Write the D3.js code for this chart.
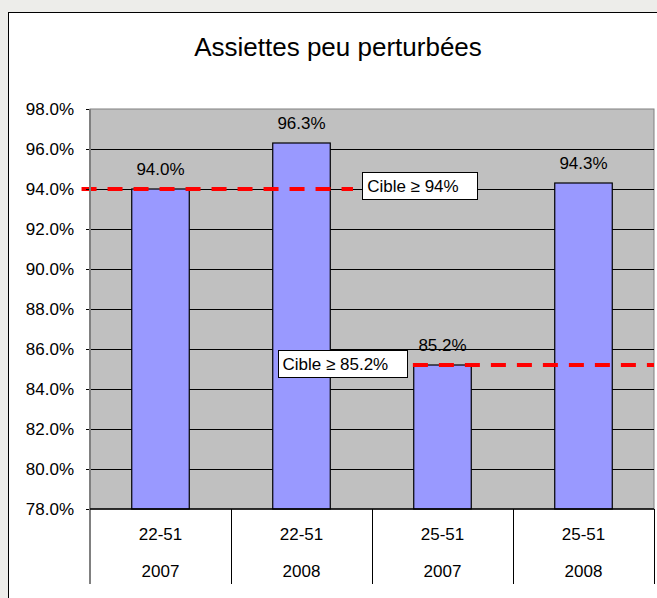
<!DOCTYPE html>
<html>
<head>
<meta charset="utf-8">
<script src="https://cdn.jsdelivr.net/npm/d3@7"></script>
<style>
  body { margin: 0; background: #ededea; }
  svg { display: block; font-family: Arial, "Liberation Sans", sans-serif; }
</style>
</head>
<body>
<div id="chart"></div>
<script>
// Chart data
var sites = ["22-51", "22-51", "25-51", "25-51"];
var years = ["2007", "2008", "2007", "2008"];
var values = [94.0, 96.3, 85.2, 94.3];
var yTicks = [78, 80, 82, 84, 86, 88, 90, 92, 94, 96, 98];
// target lines: value, label, start/end in category units
var targetValues = [94, 85.2];
var targetLabels = ["Cible \u2265 94%", "Cible \u2265 85.2%"];
var targetFrom = [-0.06, 2.29];
var targetTo = [1.865, 4.0];

var W = 657, H = 598;
var margin = {top: 109, right: 3, bottom: 89, left: 90},
    width = W - margin.left - margin.right,
    height = H - margin.top - margin.bottom;
var fs = "17px";

var svg = d3.select("#chart").append("svg")
    .attr("width", W)
    .attr("height", H);

// outer frame
svg.append("rect")
    .attr("x", 8.5).attr("y", 12.5)
    .attr("width", W + 10).attr("height", H + 10)
    .attr("fill", "#fff")
    .attr("stroke", "#000")
    .attr("stroke-width", 1);

svg.append("text")
    .attr("x", 338)
    .attr("y", 56)
    .attr("text-anchor", "middle")
    .style("font-size", "26px")
    .text("Assiettes peu perturbées");

var g = svg.append("g")
    .attr("transform", "translate(" + margin.left + "," + margin.top + ")");

var idx = d3.range(values.length);
var xScale = d3.scaleBand().domain(idx).range([0, width])
    .paddingInner(0.592).paddingOuter(0.296);
var xCat = d3.scaleLinear().domain([0, values.length]).range([0, width]);
var yScale = d3.scaleLinear().domain([78, 98]).range([height, 0]);

// plot background
g.append("rect")
    .attr("width", width).attr("height", height)
    .attr("fill", "#c0c0c0")
    .attr("stroke", "#808080");

// gridlines
g.selectAll(".grid").data(yTicks.slice(1, -1)).enter()
  .append("line")
    .attr("x1", 0).attr("x2", width)
    .attr("y1", function (d) { return Math.round(yScale(d)) + 0.5; })
    .attr("y2", function (d) { return Math.round(yScale(d)) + 0.5; })
    .attr("stroke", "#000")
    .attr("stroke-width", 1);

// bars
g.selectAll(".bar").data(values).enter()
  .append("rect")
    .attr("x", function (d, i) { return xScale(i); })
    .attr("y", function (d) { return yScale(d); })
    .attr("width", xScale.bandwidth())
    .attr("height", function (d) { return height - yScale(d); })
    .attr("fill", "#9999ff")
    .attr("stroke", "#000")
    .attr("stroke-width", 1.2);

// bar labels
g.selectAll(".lbl").data(values).enter()
  .append("text")
    .attr("x", function (d, i) { return xScale(i) + xScale.bandwidth() / 2; })
    .attr("y", function (d) { return yScale(d) - 14; })
    .attr("text-anchor", "middle")
    .style("font-size", fs)
    .text(function (d) { return d.toFixed(1) + "%"; });

// target lines
targetValues.forEach(function (v, i) {
  g.append("line")
    .attr("x1", xCat(targetFrom[i])).attr("x2", xCat(targetTo[i]))
    .attr("y1", yScale(v)).attr("y2", yScale(v))
    .attr("stroke", "#ff0000")
    .attr("stroke-width", 4)
    .attr("stroke-dasharray", "15,11");
});

// target label boxes
var boxX = [1.93, 1.33], boxW = [115, 129];
targetLabels.forEach(function (t, i) {
  var bx = xCat(boxX[i]), by = yScale(targetValues[i]) - 17;
  if (i === 1) by = yScale(targetValues[i]) - 15;
  g.append("rect")
    .attr("x", Math.round(bx) + 0.5).attr("y", Math.round(by) + 0.5)
    .attr("width", boxW[i]).attr("height", 27)
    .attr("fill", "#fff").attr("stroke", "#000");
  g.append("text")
    .attr("x", bx + 5).attr("y", by + 20)
    .style("font-size", fs)
    .text(t);
});

// y axis
var yAxis = d3.axisLeft(yScale).tickValues(yTicks)
    .tickSize(4).tickPadding(12)
    .tickFormat(function (d) { return d.toFixed(1) + "%"; });
var ya = g.append("g").call(yAxis);
ya.select(".domain").remove();
ya.selectAll(".tick line").attr("stroke", "#000");
ya.selectAll("text").style("font-size", fs).attr("fill", "#000");

// category table under axis
g.append("line")
    .attr("x1", 0).attr("x2", 0)
    .attr("y1", 0).attr("y2", height + 75)
    .attr("stroke", "#808080").attr("stroke-width", 2);
g.selectAll(".sep").data(d3.range(1, values.length + 1)).enter()
  .append("line")
    .attr("x1", function (d) { return Math.round(xCat(d)) + 0.5; })
    .attr("x2", function (d) { return Math.round(xCat(d)) + 0.5; })
    .attr("y1", height).attr("y2", height + 75)
    .attr("stroke", "#000");
g.append("line")
    .attr("x1", 0).attr("x2", width)
    .attr("y1", height).attr("y2", height)
    .attr("stroke", "#000").attr("stroke-width", 1.5);

g.selectAll(".site").data(sites).enter()
  .append("text")
    .attr("x", function (d, i) { return xCat(i + 0.5); })
    .attr("y", height + 31)
    .attr("text-anchor", "middle")
    .style("font-size", fs)
    .text(function (d) { return d; });
g.selectAll(".year").data(years).enter()
  .append("text")
    .attr("x", function (d, i) { return xCat(i + 0.5); })
    .attr("y", height + 68)
    .attr("text-anchor", "middle")
    .style("font-size", fs)
    .text(function (d) { return d; });
</script>
</body>
</html>
